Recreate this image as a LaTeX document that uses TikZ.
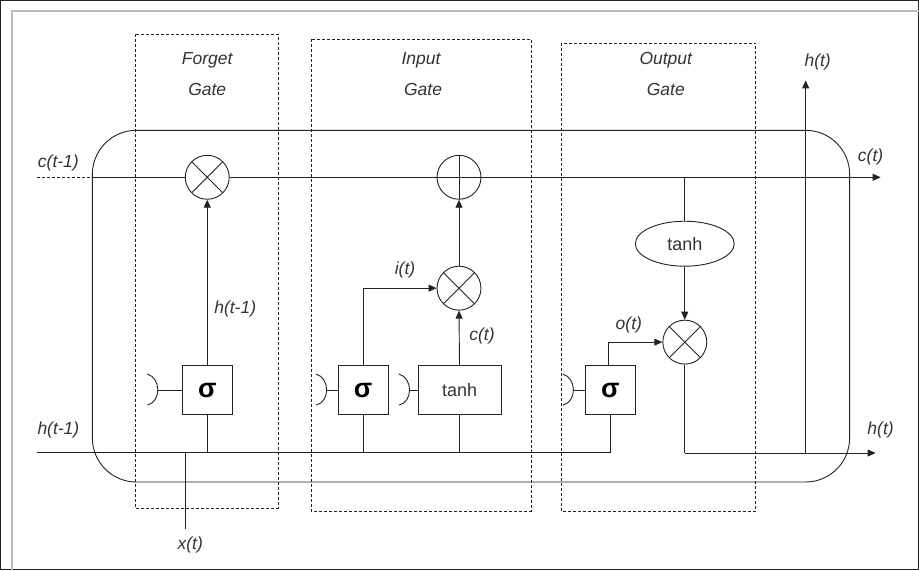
\documentclass[tikz,border=0pt]{standalone}
\usepackage{fontspec}
\setmainfont{Liberation Sans}
\usetikzlibrary{shapes.geometric,arrows.meta}
\definecolor{ink}{HTML}{222222}
\definecolor{txt}{HTML}{333333}
\definecolor{frame}{HTML}{BBBBBB}
\tikzset{
  every path/.style={line width=0.9pt, draw=ink},
  lbl/.style={font=\fontsize{17.5}{19}\selectfont\itshape, text=txt, inner sep=0pt},
  gatebox/.style={draw=ink, dashed, dash pattern=on 3pt off 2pt, line width=0.8pt},
  mult/.style={circle, draw=ink, minimum size=44pt, inner sep=0pt,
    path picture={\draw[ink] (path picture bounding box.north west) -- (path picture bounding box.south east)
      (path picture bounding box.north east) -- (path picture bounding box.south west);}},
  plus/.style={circle, draw=ink, minimum size=44pt, inner sep=0pt,
    path picture={\draw[ink] (path picture bounding box.north) -- (path picture bounding box.south)
      (path picture bounding box.east) -- (path picture bounding box.west);}},
  sigbox/.style={draw=ink, minimum width=50pt, minimum height=49pt, inner sep=0pt,
    font=\fontsize{27}{29}\selectfont\bfseries},
  tanhbox/.style={draw=ink, minimum width=83pt, minimum height=49pt, inner sep=0pt,
    font=\fontsize{18}{20}\selectfont, text=txt},
  arr/.style={-{Triangle[length=8pt,width=7pt]}},
}
\begin{document}
\begin{tikzpicture}[x=1pt,y=-1pt]
\useasboundingbox (0,0) rectangle (919,570);
% outer frame
\draw[frame, line width=2pt] (12,570) -- (12,11) -- (919,11);
% gate boxes
\draw[gatebox] (135,34) rectangle (278,508);
\draw[gatebox] (311,39) rectangle (531,511);
\draw[gatebox] (561,43) rectangle (756,511);
\node[lbl] (fg1) at (207,60) {Forget};
\node[lbl] (fg2) at (207,89) {Gate};
\node[lbl] (ig1) at (421,60) {Input};
\node[lbl] (ig2) at (423,89) {Gate};
\node[lbl] (og1) at (666,60) {Output};
\node[lbl] (og2) at (666,89) {Gate};
% main rounded box
\draw[rounded corners=44pt] (92,130) rectangle (850,482);
% nodes
\node[mult] (fm) at (207,177) {};
\node[plus] (pl) at (459,177) {};
\node[mult] (im) at (459,288) {};
\node[mult] (om) at (685,342) {};
\node[sigbox] (fs) at (207,390) {σ};
\node[sigbox] (is) at (363,390) {σ};
\node[tanhbox] (it) at (459.5,390) {tanh};
\node[sigbox] (os) at (610.5,390) {σ};
\node[ellipse, draw=ink, minimum width=99pt, minimum height=45pt, inner sep=0pt,
  font=\fontsize{18}{20}\selectfont, text=txt] (ot) at (685,243.5) {tanh};
% coordinates
\coordinate (cin) at (37,177);
\coordinate (cedge) at (92,177);
\coordinate (cout) at (881,177);
\coordinate (ctap) at (685,177);
\coordinate (hin) at (37,452);
\coordinate (hend) at (os.south |- hin);
\coordinate (xin) at (185,529);
\coordinate (xjoin) at (185,452);
\coordinate (hbot) at (685,453);
\coordinate (hout) at (876,453);
\coordinate (hup0) at (806,453);
\coordinate (hup1) at (806,80);
% cell state line
\draw[dashed, dash pattern=on 3pt off 2pt] (cin) -- (cedge);
\draw (cedge) -- (fm.west);
\draw (fm.east) -- (pl.west);
\draw[arr] (pl.east) -- (cout);
% hidden input line
\draw (hin) -- (hend) -- (os.south);
\draw (xin) -- (xjoin);
\draw (fs.south) -- (fs.south |- hin);
\draw (is.south) -- (is.south |- hin);
\draw (it.south) -- (it.south |- hin);
% forget
\draw[arr] (fs.north) -- (fm.south);
% input
\draw[arr] (is.north) |- (im.west);
\draw[arr] (it.north) -- (im.south);
\draw[arr] (im.north) -- (pl.south);
% output
\draw (ctap) -- (ot.north);
\draw[arr] (ot.south) -- (om.north);
\draw[arr] ([xshift=-2pt]os.north) |- (om.west);
\draw (om.south) -- (hbot);
\draw[arr] (hbot) -- (hout);
\draw[arr] (hup0) -- (hup1);
% brackets
\draw (147,374) .. controls (161,378) and (161,402) .. (147,405);
\draw (158,390) -- (fs.west);
\draw (316,374) .. controls (330,378) and (330,402) .. (316,405);
\draw (327,390) -- (is.west);
\draw (399,374) .. controls (413,378) and (413,402) .. (399,405);
\draw (410,390) -- (it.west);
\draw (563,374) .. controls (577,378) and (577,402) .. (563,405);
\draw (574,390) -- (os.west);
% labels
\node[lbl] (lc1) at (58,163) {c(t-1)};
\node[lbl] (lc2) at (871,157) {c(t)};
\node[lbl] (lh1) at (58,430) {h(t-1)};
\node[lbl] (lh2) at (235,309) {h(t-1)};
\node[lbl] (lit) at (405,270) {i(t)};
\node[lbl] (lct) at (482,336) {c(t)};
\node[lbl] (lot) at (629,325) {o(t)};
\node[lbl] (lht) at (881,430) {h(t)};
\node[lbl] (lhu) at (818,62) {h(t)};
\node[lbl] (lxt) at (190,545) {x(t)};
\end{tikzpicture}
\end{document}
